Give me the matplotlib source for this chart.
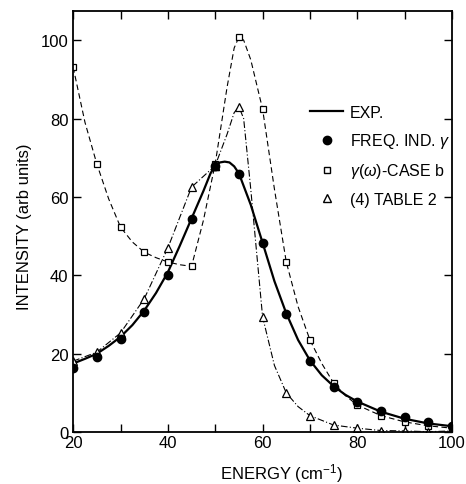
"""Intensity vs energy comparison chart."""

import matplotlib.pyplot as plt
from matplotlib.lines import Line2D

plt.rcParams["font.family"] = ["Liberation Sans", "DejaVu Sans"]
plt.rcParams["mathtext.fontset"] = "custom"
plt.rcParams["mathtext.rm"] = "Liberation Sans"
plt.rcParams["mathtext.it"] = "Liberation Sans:italic"

# measured points
energy_pts = [20, 25, 30, 35, 40, 45, 50, 55, 60, 65, 70, 75, 80, 85, 90, 95, 100]
freq_ind = [16.3, 19.1, 23.7, 30.6, 40.2, 54.3, 68.0, 65.8, 48.2, 30.1, 18.1, 11.5, 7.6, 5.4, 3.8, 2.5, 1.6]
case_b = [93.1, 68.4, 52.3, 45.9, 43.4, 42.3, 68.5, 100.8, 82.4, 43.4, 23.5, 12.5, 6.9, 4.2, 2.6, 1.6, 1.0]
table2 = [18.1, 20.4, 25.3, 34.0, 47.0, 62.5, 68.0, 83.0, 29.4, 10.0, 4.2, 1.8, 1.0, 0.4, 0.3, 0.1, 0.3]

# curves
exp_x = [20, 22.5, 25, 27.5, 30, 32.5, 35, 37.5, 40, 42.5, 45, 47.5, 49, 50, 51, 52, 53, 54, 55,
         57.5, 60, 62.5, 65, 67.5, 70, 72.5, 75, 77.5, 80, 85, 90, 95, 100]
exp_y = [17.5, 18.7, 20.0, 22.0, 24.3, 27.3, 31.0, 35.5, 40.8, 47.5, 54.5, 61.5, 66.0, 68.0, 68.8, 69.0,
         68.8, 67.8, 66.0, 58.0, 48.3, 38.5, 30.3, 23.5, 18.3, 14.5, 11.7, 9.5, 7.8, 5.2, 3.4, 2.2, 1.5]

caseb_x = [20, 22.5, 25, 27.5, 30, 32.5, 35, 37.5, 40, 42.5, 45, 47.5, 50, 52.5, 54, 55, 56, 57.5,
           60, 62.5, 65, 67.5, 70, 72.5, 75, 77.5, 80, 85, 90, 95, 100]
caseb_y = [93.1, 79.0, 68.4, 59.5, 52.3, 48.5, 45.9, 44.5, 43.4, 42.7, 42.3, 54.0, 68.5, 88.0, 98.0,
           100.8, 100.0, 95.0, 82.4, 62.0, 43.4, 32.0, 23.5, 17.5, 12.5, 9.3, 6.9, 4.2, 2.6, 1.6, 1.0]

table2_x = [20, 25, 30, 35, 40, 45, 50, 52.5, 54, 55, 56, 57.5, 60, 62.5, 65, 67.5, 70, 75, 80, 85,
            90, 95, 100]
table2_y = [18.1, 20.4, 25.3, 34.0, 47.0, 62.5, 68.0, 76.0, 81.5, 83.0, 80.0, 62.0, 29.4, 17.0, 10.0,
            6.5, 4.2, 1.8, 1.0, 0.4, 0.3, 0.1, 0.3]

fig = plt.figure(figsize=(4.66, 4.85), dpi=100)
ax = fig.add_axes([0.157, 0.107, 0.813, 0.868])

ax.plot(caseb_x, caseb_y, color="black", lw=0.8, ls=(0, (5, 3)))
ax.plot(table2_x, table2_y, color="black", lw=0.8, ls=(0, (6, 2, 1, 2)))
ax.plot(exp_x, exp_y, color="black", lw=1.6)

ax.plot(energy_pts, case_b, ls="none", marker="s", ms=5, mfc="white", mec="black", mew=0.9)
ax.plot(energy_pts, table2, ls="none", marker="^", ms=6, mfc="white", mec="black", mew=0.9)
ax.plot(energy_pts, freq_ind, ls="none", marker="o", ms=6, mfc="black", mec="black")
ax.plot([50], [68.0], ls="none", marker="^", ms=6, color="black")

ax.set_xlim(20, 100)
ax.set_ylim(0, 107.4)
ax.set_xticks([20, 30, 40, 50, 60, 70, 80, 90, 100])
ax.set_xticklabels(["20", "", "40", "", "60", "", "80", "", "100"])
ax.set_yticks([0, 20, 40, 60, 80, 100])
ax.tick_params(direction="in", length=6, width=1, top=True, right=True, labelsize=12)
ax.tick_params(axis="x", pad=2)
for s in ax.spines.values():
    s.set_linewidth(1.3)

ax.set_xlabel("ENERGY (cm$^{-1}$)", fontsize=12)
ax.set_ylabel("INTENSITY (arb units)", fontsize=12)
ax.xaxis.set_label_coords(0.55, -0.068)
ax.yaxis.set_label_coords(-0.108, 0.49)

handles = [
    Line2D([], [], color="black", lw=1.6),
    Line2D([], [], ls="none", marker="o", ms=6, color="black"),
    Line2D([], [], ls="none", marker="s", ms=5, mfc="white", mec="black"),
    Line2D([], [], ls="none", marker="^", ms=6, mfc="white", mec="black"),
]
labels = ["EXP.", "FREQ. IND. $\\gamma$", "$\\gamma(\\omega)$-CASE b", "(4) TABLE 2"]
ax.legend(handles, labels, loc="upper left", bbox_to_anchor=(0.625, 0.777), frameon=False,
          fontsize=11.5, handlelength=2.1, handletextpad=0.4, labelspacing=0.7,
          borderpad=0, borderaxespad=0)

plt.savefig("out.png", dpi=100)
